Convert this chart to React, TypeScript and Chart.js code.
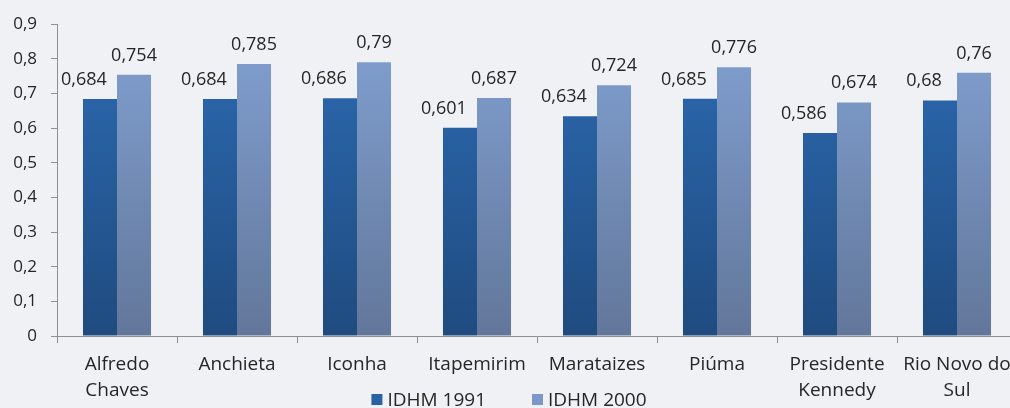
import React, { useEffect, useRef } from "react";
import { Chart, registerables } from "chart.js";

Chart.register(...registerables);

const categories: (string | string[])[] = [
  ["Alfredo", "Chaves"],
  "Anchieta",
  "Iconha",
  "Itapemirim",
  "Marataizes",
  "Piúma",
  ["Presidente", "Kennedy"],
  ["Rio Novo do", "Sul"],
];
const idhm1991 = [0.684, 0.684, 0.686, 0.601, 0.634, 0.685, 0.586, 0.68];
const idhm2000 = [0.754, 0.785, 0.79, 0.687, 0.724, 0.776, 0.674, 0.76];
const seriesLabels = ["IDHM 1991", "IDHM 2000"];
const yMin = 0;
const yMax = 0.9;
const yStep = 0.1;

const FONT = '"Open Sans", "DejaVu Sans", sans-serif';
const TEXT = "#262626";
const AXIS = "#8f8f8f";
const BG = "#f0f1f4";
const legendColors = ["#2862a5", "#7d98c8"];

const fmt = (v: number) => String(v).replace(".", ",");

function gradient(ctx: any, top: string, bottom: string, solid: string) {
  const chart = ctx.chart;
  const area = chart.chartArea;
  if (!area) return solid;
  const g = chart.ctx.createLinearGradient(0, area.top, 0, area.bottom);
  g.addColorStop(0, top);
  g.addColorStop(1, bottom);
  return g;
}

const dataLabelPlugin = {
  id: "valueLabels",
  afterDatasetsDraw(chart: any) {
    const ctx = chart.ctx;
    ctx.save();
    ctx.font = `18px ${FONT}`;
    ctx.fillStyle = TEXT;
    ctx.textAlign = "center";
    ctx.textBaseline = "alphabetic";
    chart.data.datasets.forEach((ds: any, di: number) => {
      const meta = chart.getDatasetMeta(di);
      meta.data.forEach((el: any, i: number) => {
        const shift = di === 0 ? -16 : 0;
        ctx.fillText(fmt(ds.data[i]), el.x + shift, el.y - 14);
      });
    });
    ctx.restore();
  },
};

const legendPlugin = {
  id: "bottomLegend",
  afterDraw(chart: any) {
    const ctx = chart.ctx;
    ctx.save();
    ctx.font = `19px ${FONT}`;
    const box = 11;
    const gap = 5;
    const itemGap = 46;
    const labels = chart.data.datasets.map((d: any) => d.label);
    const widths = labels.map((l: string) => ctx.measureText(l).width);
    const total =
      widths.reduce((a: number, b: number) => a + b, 0) +
      labels.length * (box + gap) +
      (labels.length - 1) * itemGap;
    let x = 509 - total / 2;
    const cy = 399.5;
    labels.forEach((l: string, i: number) => {
      ctx.fillStyle = legendColors[i];
      ctx.fillRect(x, cy - box / 2, box, box);
      x += box + gap;
      ctx.fillStyle = TEXT;
      ctx.textAlign = "left";
      ctx.textBaseline = "middle";
      ctx.fillText(l, x, cy + 1);
      x += widths[i] + itemGap;
    });
    ctx.restore();
  },
};

export default function App() {
  const ref = useRef<HTMLCanvasElement>(null);
  useEffect(() => {
    if (!ref.current) return;
    const chart = new Chart(ref.current, {
      type: "bar",
      data: {
        labels: categories,
        datasets: [
          {
            label: seriesLabels[0],
            data: idhm1991,
            backgroundColor: (c: any) => gradient(c, "#2d6bb3", "#1f4b7f", legendColors[0]),
            borderWidth: 0,
            categoryPercentage: 0.567,
            barPercentage: 1,
          },
          {
            label: seriesLabels[1],
            data: idhm2000,
            backgroundColor: (c: any) => gradient(c, "#82a1d2", "#62779a", legendColors[1]),
            borderWidth: 0,
            categoryPercentage: 0.567,
            barPercentage: 1,
          },
        ],
      },
      options: {
        responsive: false,
        animation: false,
        devicePixelRatio: 1,
        layout: { padding: { top: 20, right: 3, bottom: 0, left: 0 } },
        plugins: {
          legend: { display: false },
          tooltip: { enabled: false },
        },
        scales: {
          x: {
            grid: {
              display: true,
              offset: true,
              drawOnChartArea: false,
              drawTicks: true,
              tickLength: 7,
              color: AXIS,
            },
            border: { display: true, color: AXIS },
            ticks: {
              color: TEXT,
              font: { family: FONT, size: 19, lineHeight: 1.35 },
              padding: 9,
              maxRotation: 0,
              autoSkip: false,
            },
            afterFit: (s: any) => {
              s.height = 72;
            },
          },
          y: {
            min: yMin,
            max: yMax,
            grid: {
              display: true,
              drawOnChartArea: false,
              drawTicks: true,
              tickLength: 6,
              color: AXIS,
            },
            border: { display: true, color: AXIS },
            ticks: {
              stepSize: yStep,
              color: TEXT,
              font: { family: FONT, size: 17 },
              padding: 14,
              callback: (v: any) => (Number(v) === 0 ? "0" : Number(v).toFixed(1).replace(".", ",")),
            },
            afterFit: (s: any) => {
              s.width = 57;
            },
          },
        },
      },
      plugins: [dataLabelPlugin, legendPlugin],
    });
    return () => chart.destroy();
  }, []);
  return (
    <div
      style={{
        position: "absolute",
        left: 0,
        top: 0,
        width: 1010,
        height: 408,
        overflow: "hidden",
        background: BG,
      }}
    >
      <canvas ref={ref} width={1020} height={408} style={{ display: "block" }} />
    </div>
  );
}
